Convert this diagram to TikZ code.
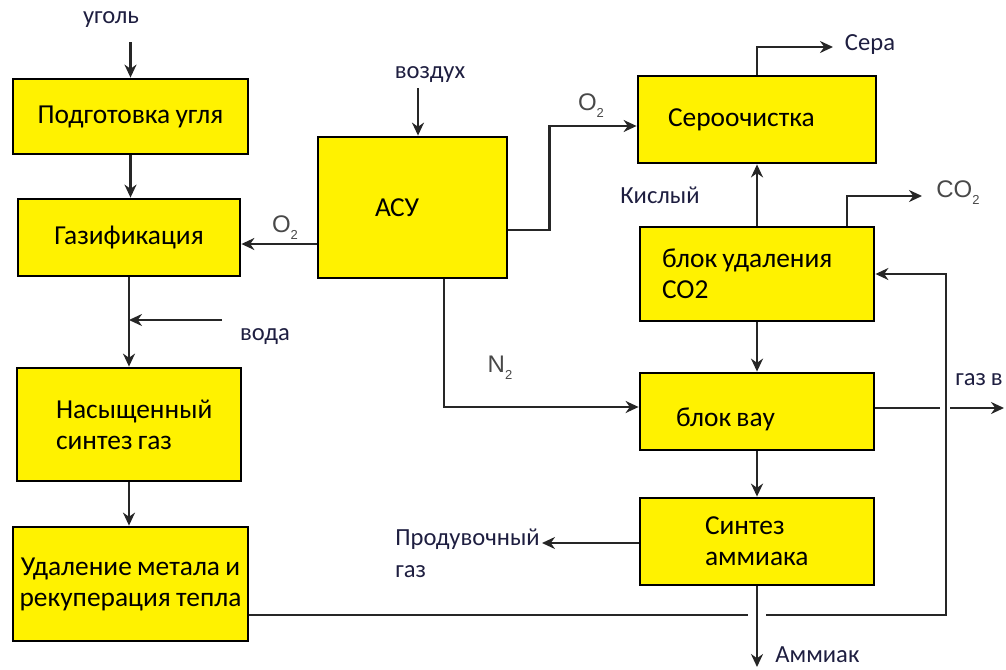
\documentclass[tikz,border=0pt]{standalone}
\usepackage{fontspec}
\setmainfont{Carlito}[WordSpace=0.85]
\newfontfamily\chemfont{Liberation Sans}
\usetikzlibrary{arrows.meta, calc}

\definecolor{boxyellow}{RGB}{255,242,0}
\definecolor{labelc}{RGB}{30,30,64}
\definecolor{chemc}{RGB}{72,72,72}

\newcommand{\chemsub}[1]{\raisebox{-0.55ex}{\fontsize{6.5}{7}\selectfont #1}}

\begin{document}
\begin{tikzpicture}[x=0.5pt, y=-0.5pt, >=Stealth,
    box/.style={rectangle, draw, fill=boxyellow, line width=1.4pt,
                font=\fontsize{13.7}{15.5}\selectfont, align=center,
                inner ysep=0pt},
    flow/.style={->, line width=1.3pt, draw=black!85,
                 arrows={-Stealth[length=6.5pt, width=6pt]}},
    pipe/.style={line width=1.3pt, draw=black!85},
    lbl/.style={font=\fontsize{12.3}{16}\selectfont, text=labelc, inner sep=0pt},
    chem/.style={font=\chemfont\fontsize{12}{13}\selectfont, text=chemc, inner sep=0pt}]

    \useasboundingbox (0,0) rectangle (1006,669);

    % left column
    \node[box, minimum width=117.5pt, minimum height=37.5pt] (prep) at (130.5,116.5) {Подготовка угля};
    \node[box, minimum width=111pt, minimum height=38.5pt] (gasif) at (129,237.5) {Газификация};
    \node[box, minimum width=112pt, minimum height=56.5pt, align=flush left,
          text width=73pt, inner xsep=19.5pt] (satur) at (129,424.5) {Насыщенный\\синтез газ};
    \node[box, minimum width=117.5pt, minimum height=57pt, inner xsep=2pt] (metal) at (130.5,584) {Удаление метала и\\рекуперация тепла};

    % air separation
    \node[box, minimum width=94.5pt, minimum height=70.5pt, align=flush left,
          text width=37.5pt, inner xsep=28.5pt] (asu) at (412.5,207.5) {АСУ};

    % right column
    \node[box, minimum width=119pt, minimum height=43.5pt, align=flush left,
          text width=89pt, inner xsep=15pt] (sulfur) at (757,119.5) {Сероочистка};
    \node[box, minimum width=117pt, minimum height=47pt, align=flush left,
          text width=95pt, inner xsep=11pt] (co2rem) at (757,274) {блок удаления\\CO2};
    \node[box, minimum width=117pt, minimum height=38.5pt, align=flush left,
          text width=81pt, inner xsep=18pt, text height=17pt] (wgs) at (757,411.5) {блок вау};
    \node[box, minimum width=117pt, minimum height=43.5pt, align=flush left,
          text width=52pt, inner xsep=32.5pt] (nh3) at (757,541.5) {Синтез\\аммиака};

    % stream labels
    \node[lbl] (coal) at (111,20) {уголь};
    \node[lbl] (air) at (430,75) {воздух};
    \node[lbl] (water) at (265,337) {вода};
    \node[lbl] (acid) at (660,195) {Кислый};
    \node[lbl] (sulf) at (870,44) {Сера};
    \node[lbl, anchor=east] (offgas) at (1003,380) {газ в};
    \node[lbl, anchor=west] (ammonia) at (775,655) {Аммиак};
    \node[lbl, anchor=north west, align=flush left] (purge) at (395,528) {Продувочный\\газ};
    \node[chem] (oxl) at (285,228) {O\chemsub{2}};
    \node[chem] (oxr) at (591,106) {O\chemsub{2}};
    \node[chem] (nitro) at (500,368) {N\chemsub{2}};
    \node[chem] (carb) at (958,193) {CO\chemsub{2}};

    % free ends
    \coordinate (coalin) at (130.5,42);
    \coordinate (airin) at (418,88);
    \coordinate (waterin) at (222,320);
    \coordinate (sulfout) at (833,47);
    \coordinate (co2out) at (922,196);
    \coordinate (purgeout) at (542,543);
    \coordinate (nh3out) at (757,667);
    \coordinate (recycle) at (946,615);

    % main line
    \draw[flow] (coalin) -- (prep.north);
    \draw[flow] (prep.south) -- (prep.south |- gasif.north);
    \draw[flow] (gasif.south) -- (gasif.south |- satur.north);
    \draw[flow] (waterin) -- (waterin -| gasif.south);
    \draw[flow] (satur.south) -- (satur.south |- metal.north);

    % oxygen and nitrogen
    \draw[flow] (airin) -- (airin |- asu.north);
    \draw[flow] ($(asu.west)+(0,36.5)$) -- ($(gasif.east)+(0,6.5)$);
    \draw[flow] ($(asu.east)+(0,22.5)$) -- ++(41,0) |- ($(sulfur.west)+(0,6.5)$);
    \draw[flow] ($(asu.south)+(31.5,0)$) |- ($(wgs.west)+(0,-4.5)$);

    % gas cleaning
    \draw[flow] (co2rem.north) -- (sulfur.south);
    \draw[flow] (sulfur.north) |- (sulfout);
    \draw[flow] ($(co2rem.north)+(90,0)$) |- (co2out);
    \draw[flow] (co2rem.south) -- (wgs.north);
    \draw[flow] (wgs.south) -- (nh3.north);
    \draw[pipe] ($(wgs.east)+(0,-3.5)$) -- (940,408);
    \draw[flow] (950,408) -- (1004,408);
    \draw[flow] (nh3.west |- purgeout) -- (purgeout);
    \draw[flow] (nh3.south) -- (nh3out);

    % recycle line
    \draw[pipe] (metal.east |- recycle) -- (748,615);
    \draw[flow] (766,615) -- (recycle) |- (co2rem.east);
\end{tikzpicture}
\end{document}
